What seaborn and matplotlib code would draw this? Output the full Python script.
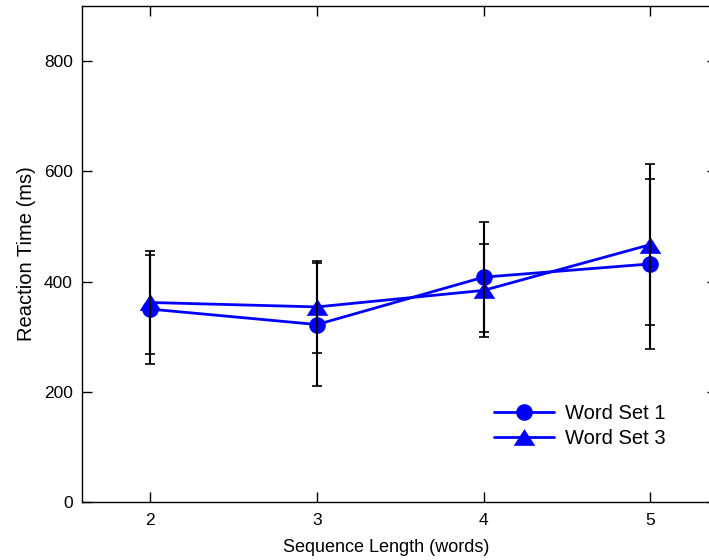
import matplotlib
matplotlib.use("Agg")
import matplotlib.pyplot as plt
import seaborn as sns
import pandas as pd

lengths = [2, 3, 4, 5]
set1_mean = [350, 322, 408, 432]
set1_err = [99, 112, 100, 154]
set3_mean = [362, 354, 384, 467]
set3_err = [93, 84, 85, 146]
series_names = ["Word Set 1", "Word Set 3"]
yticks = [0, 200, 400, 600, 800]

sns.set_style("ticks")
plt.rcParams['font.family'] = ['Liberation Sans', 'DejaVu Sans']
plt.rcParams['text.color'] = 'black'
plt.rcParams['axes.labelcolor'] = 'black'

df = pd.DataFrame({
    "len": lengths * 2,
    "rt": set1_mean + set3_mean,
    "set": [series_names[0]] * 4 + [series_names[1]] * 4,
})

tri = [(0, 1), (-1.3, -1), (1.3, -1), (0, 1)]

fig = plt.figure(figsize=(7.09, 5.6), dpi=100)
ax = fig.add_axes([82/709, 1 - 502/560, (717 - 82)/709, (502 - 6)/560])

sns.lineplot(data=df, x="len", y="rt", hue="set", style="set",
             markers={series_names[0]: "o", series_names[1]: tri},
             dashes=False, palette=["#0000ff", "#0000ff"],
             linewidth=2, markersize=12, markeredgewidth=0, ax=ax, zorder=2)
ax.lines[1].set_markersize(15.6)

ax.errorbar(lengths, set1_mean, yerr=set1_err, fmt="none", ecolor="black",
            elinewidth=1.5, capsize=3.6, capthick=1.2, zorder=3)
ax.errorbar(lengths, set3_mean, yerr=set3_err, fmt="none", ecolor="black",
            elinewidth=1.5, capsize=3.6, capthick=1.2, zorder=3)

ax.set_xlim(1.59, 5.4)
ax.set_ylim(0, 900)
ax.set_xticks(lengths)
ax.set_yticks(yticks)
ax.tick_params(direction="in", length=7.5, width=1, labelsize=12.5,
               top=True, right=True, colors="black", labelcolor="black")
ax.tick_params(axis="y", pad=6.5)
ax.tick_params(axis="x", pad=8)
for s in ax.spines.values():
    s.set_linewidth(1)
    s.set_color("black")
    s.set_visible(True)

ax.set_xlabel("Sequence Length (words)", fontsize=13, color="black")
ax.xaxis.set_label_coords((386 - 82) / 635, -0.074)
ax.set_ylabel("Reaction Time (ms)", fontsize=14.5, labelpad=6, color="black")

leg = ax.legend(loc="upper left", bbox_to_anchor=(490/709, 1 - 400/560),
                bbox_transform=fig.transFigure, frameon=False,
                fontsize=14.5, handlelength=3.0, labelspacing=0.3,
                handletextpad=0.5, borderpad=0.2, borderaxespad=0)
leg.legend_handles[1].set_markersize(15.6)
for t in leg.get_texts():
    t.set_color("black")

fig.savefig("out.png", dpi=100)
